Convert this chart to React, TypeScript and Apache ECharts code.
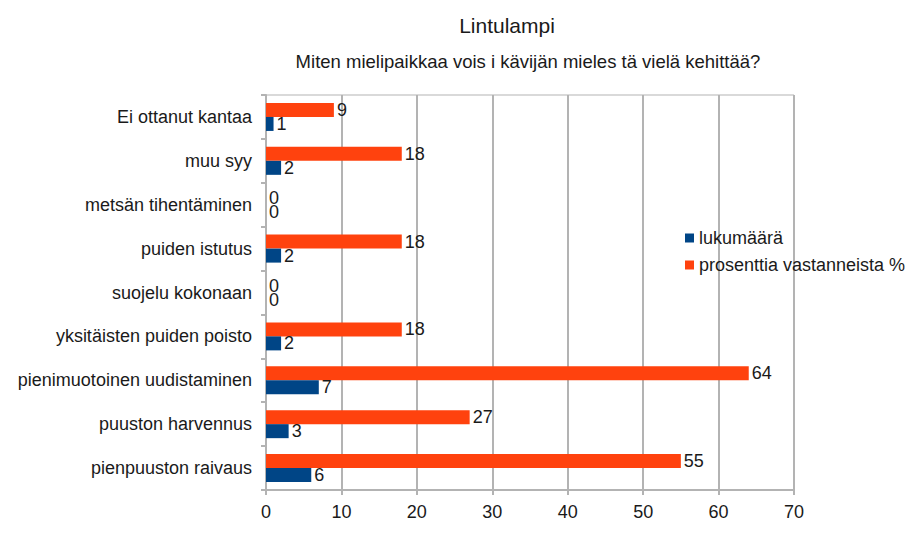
import React, { useEffect, useRef } from "react";
import * as echarts from "echarts";

const categories = [
  "pienpuuston raivaus",
  "puuston harvennus",
  "pienimuotoinen uudistaminen",
  "yksitäisten puiden poisto",
  "suojelu kokonaan",
  "puiden istutus",
  "metsän tihentäminen",
  "muu syy",
  "Ei ottanut kantaa",
];
const lukumaara = [6, 3, 7, 2, 0, 2, 0, 2, 1];
const prosentti = [55, 27, 64, 18, 0, 18, 0, 18, 9];
const seriesNames = ["lukumäärä", "prosenttia vastanneista %"];
const titleText = "Lintulampi";
const subtitleText = "Miten mielipaikkaa vois i kävijän mieles tä vielä kehittää?";

export default function App() {
  const ref = useRef<HTMLDivElement>(null);
  useEffect(() => {
    if (!ref.current) return;
    const chart = echarts.init(ref.current, null, { renderer: "svg" });
    const font = "Liberation Sans, Arial, sans-serif";
    const fs = 18;
    const label = {
      show: true,
      position: "right" as const,
      distance: 3,
      color: "#1a1a1a",
      fontSize: fs,
      fontFamily: font,
    };
    chart.setOption({
      animation: false,
      backgroundColor: "#ffffff",
      textStyle: { fontFamily: font },
      title: [
        {
          text: titleText,
          left: 502,
          top: 10,
          textAlign: "center",
          textStyle: { fontSize: 21, fontWeight: "normal", color: "#1a1a1a", fontFamily: font },
        },
        {
          text: subtitleText,
          left: 523,
          top: 47,
          textAlign: "center",
          textStyle: { fontSize: 18.5, fontWeight: "normal", color: "#1a1a1a", fontFamily: font },
        },
      ],
      legend: {
        orient: "vertical",
        left: 680,
        top: 224,
        itemWidth: 9,
        itemHeight: 9,
        itemGap: 9,
        icon: "rect",
        data: seriesNames,
        textStyle: { fontSize: fs, color: "#1a1a1a", fontFamily: font },
      },
      grid: {
        left: 266,
        right: 121,
        top: 95,
        bottom: 46,
        show: true,
        borderColor: "#b3b3b3",
        borderWidth: 1,
      },
      xAxis: {
        type: "value",
        min: 0,
        max: 70,
        interval: 10,
        axisLine: { show: true, lineStyle: { color: "#b3b3b3", width: 2 } },
        axisTick: { show: true, length: 5, lineStyle: { color: "#b3b3b3", width: 2 } },
        splitLine: { show: true, lineStyle: { color: "#b3b3b3", width: 2 } },
        axisLabel: { fontSize: fs, color: "#1a1a1a", margin: 13, fontFamily: font },
      },
      yAxis: {
        type: "category",
        data: categories,
        axisLine: { show: true, lineStyle: { color: "#b3b3b3", width: 2 } },
        axisTick: { show: true, length: 5, lineStyle: { color: "#b3b3b3", width: 2 } },
        axisLabel: { fontSize: fs, color: "#1a1a1a", margin: 14, fontFamily: font },
      },
      series: [
        {
          name: seriesNames[1],
          type: "bar",
          data: prosentti,
          barWidth: 14,
          barGap: "0%",
          itemStyle: { color: "#ff420e" },
          label,
        },
        {
          name: seriesNames[0],
          type: "bar",
          data: lukumaara,
          barWidth: 14,
          barGap: "0%",
          itemStyle: { color: "#004586" },
          label,
        },
      ],
    });
    return () => chart.dispose();
  }, []);
  return (
    <div
      ref={ref}
      style={{ position: "fixed", left: 0, top: 0, width: 915, height: 536 }}
    />
  );
}
